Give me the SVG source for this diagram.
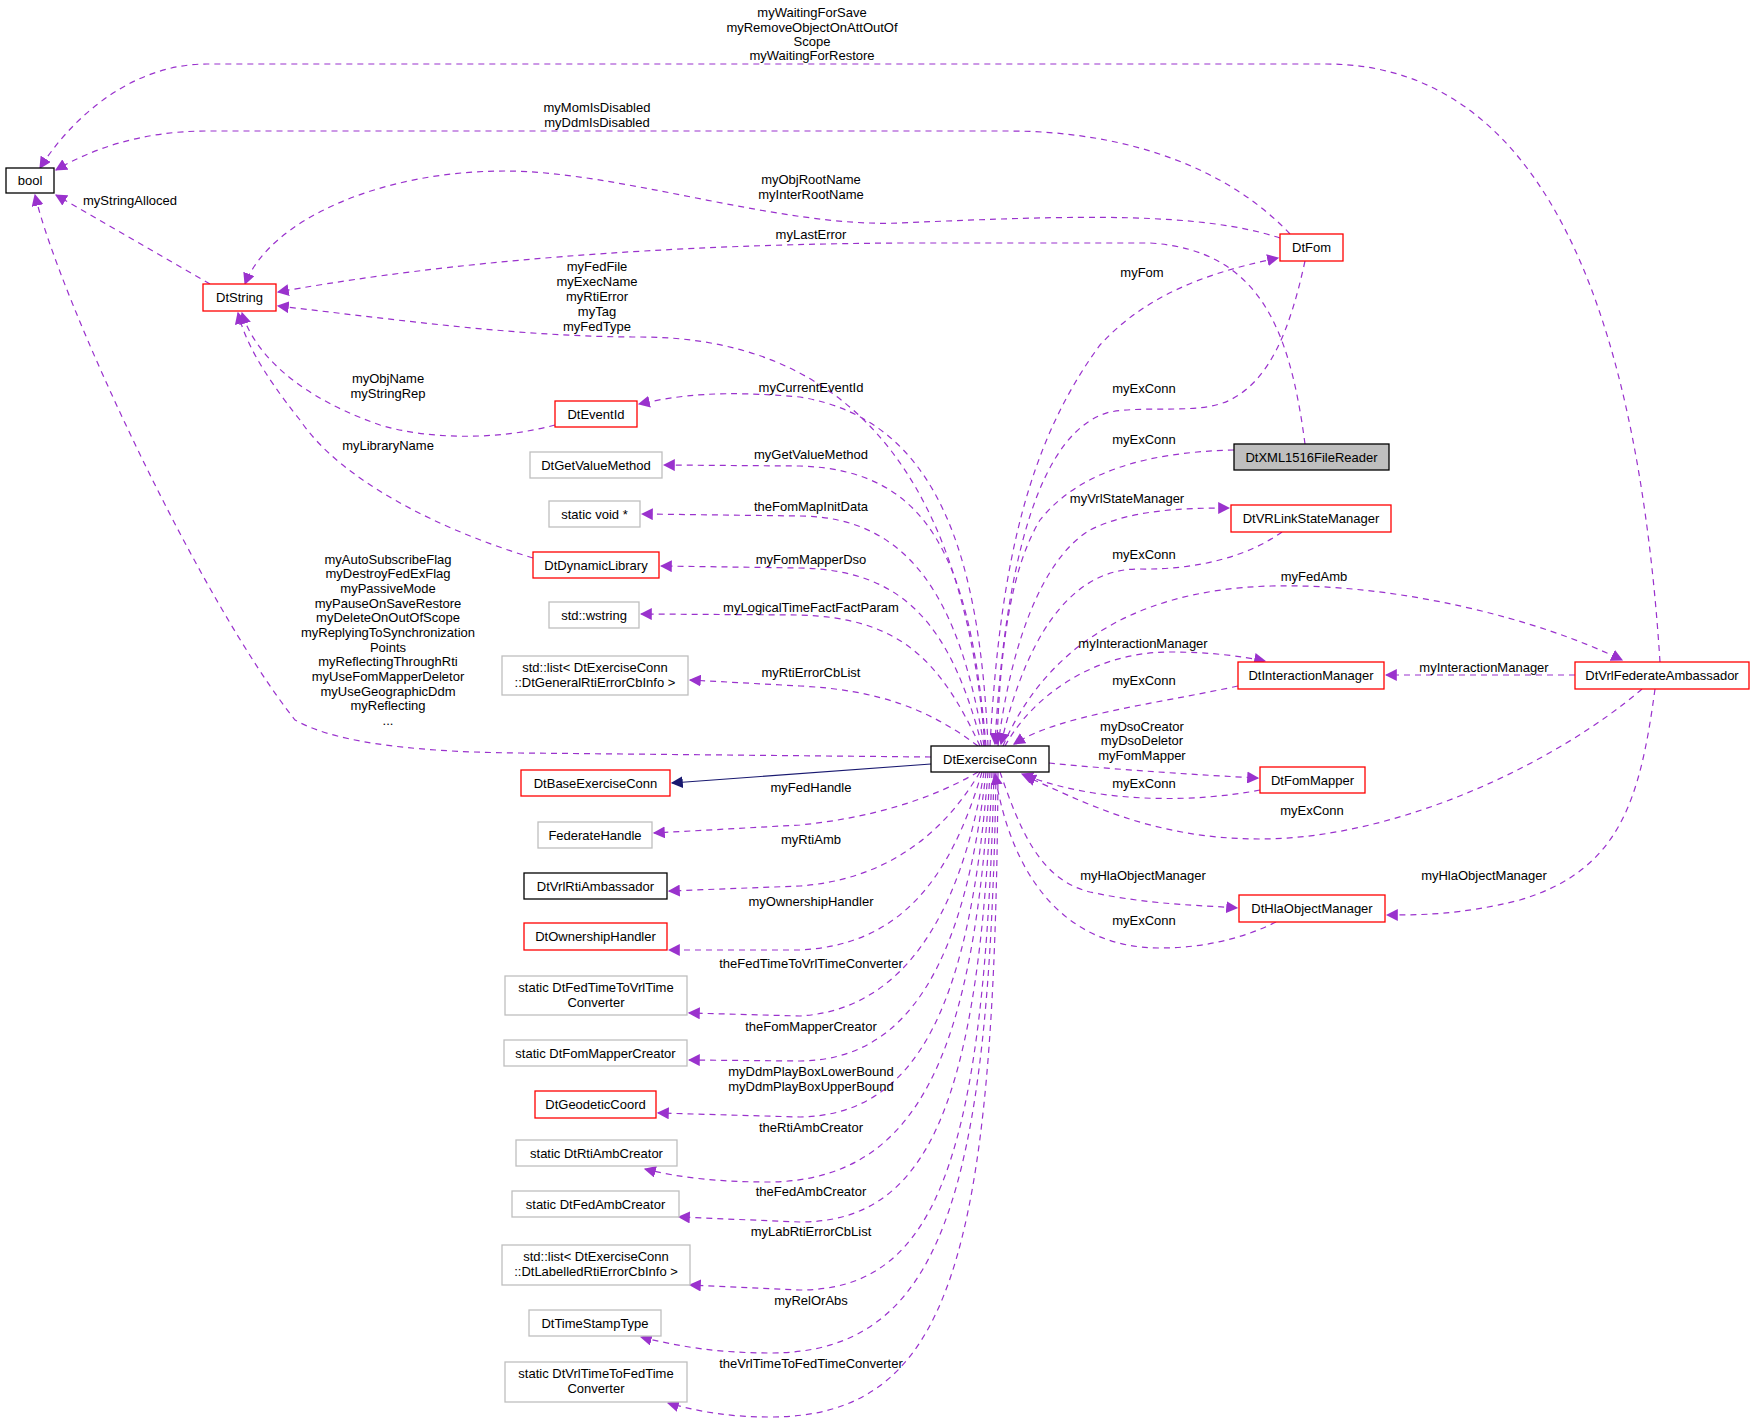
<svg xmlns="http://www.w3.org/2000/svg" width="1755" height="1423" viewBox="0 0 1755 1423">
<style>
text{font-family:"Liberation Sans",Arial,sans-serif;font-size:13px;fill:#000}
.n text,.l{text-anchor:middle}
.g{fill:#fff;stroke:#bfbfbf;stroke-width:1.3}
.r{fill:#fff;stroke:#ff0000;stroke-width:1.3}
.k{fill:#fff;stroke:#000;stroke-width:1.3}
.e path{fill:none;stroke:#9a32cd;stroke-width:1.2;stroke-dasharray:6,5;marker-end:url(#a)}
.e path.s{stroke:#191970;stroke-dasharray:none;marker-end:url(#b)}
</style>
<defs>
<marker id="a" viewBox="0 0 10 10" refX="9" refY="5" markerWidth="12" markerHeight="12" markerUnits="userSpaceOnUse" orient="auto"><path d="M0,0L10,5L0,10z" fill="#9a32cd"/></marker>
<marker id="b" viewBox="0 0 10 10" refX="9" refY="5" markerWidth="12" markerHeight="12" markerUnits="userSpaceOnUse" orient="auto"><path d="M0,0L10,5L0,10z" fill="#191970"/></marker>
</defs>
<rect width="1755" height="1423" fill="#fff"/>
<g class="e">
<path d="M1660,662 C1640,350 1560,64 1326,64 L207,64 C130,64 70,120 40,168"/>
<path d="M1290,234 C1230,170 1130,131 1008,131 L207,131 C140,131 90,150 56,170"/>
<path d="M1280,238 C1200,212 1080,215 900,223 C780,228 620,171 505,171 C380,171 270,220 245,284"/>
<path d="M1305,444 C1290,330 1260,250 1150,243 L900,243 C600,245 400,270 278,292"/>
<path d="M985,746 C960,420 800,337 640,337 C520,337 400,320 278,306"/>
<path d="M210,284 L56,195"/>
<path d="M555,425 C500,440 430,440 380,425 C280,390 250,340 242,313"/>
<path d="M533,558 C440,530 340,480 300,420 C260,370 245,340 238,313"/>
<path d="M931,757 L520,753 C400,752 330,740 295,720 C200,600 60,300 35,195"/>
<path d="M990,746 C1000,560 1030,440 1100,345 C1150,290 1220,270 1278,258"/>
<path d="M1305,261 C1290,330 1270,380 1230,400 C1200,415 1150,405 1110,412 C1040,430 1005,560 995,744"/>
<path d="M1234,450 C1150,452 1080,470 1040,520 C1010,570 1000,650 997,744"/>
<path d="M998,746 C1010,650 1040,560 1090,530 C1130,510 1180,508 1229,508"/>
<path d="M1282,532 C1250,555 1200,570 1140,569 C1080,568 1030,620 1001,744"/>
<path d="M1003,746 C1040,660 1120,590 1271,586 C1400,583 1540,620 1622,660"/>
<path d="M1005,746 C1030,700 1090,652 1170,652 C1210,652 1240,656 1265,661"/>
<path d="M1238,686 C1150,705 1060,715 1014,744"/>
<path d="M1575,675 L1386,675"/>
<path d="M1049,763 C1120,770 1200,775 1258,778"/>
<path d="M1260,790 C1200,802 1100,805 1022,774"/>
<path d="M1642,689 C1560,760 1400,839 1260,839 C1150,839 1080,800 1025,776"/>
<path d="M1000,772 C1020,830 1040,880 1090,892 C1150,905 1200,905 1237,908"/>
<path d="M1276,922 C1240,940 1200,948 1160,948 C1060,948 1010,870 995,774"/>
<path d="M1655,689 C1640,800 1620,870 1520,900 C1460,915 1420,915 1387,915"/>
<path d="M988,746 C980,560 940,420 800,397 C720,390 680,395 639,404"/>
<path d="M986,746 C970,560 930,470 800,466 L664,465"/>
<path d="M984,746 C960,600 910,517 800,516 L642,514"/>
<path d="M982,746 C950,620 900,570 800,568 L661,566"/>
<path d="M980,746 C940,660 900,618 800,615 L641,614"/>
<path d="M978,746 C930,710 880,690 800,686 L690,680"/>
<path class="s" d="M931,764 L672,783"/>
<path d="M978,772 C930,800 870,818 800,825 L654,833"/>
<path d="M980,772 C940,840 880,880 800,886 L669,891"/>
<path d="M982,772 C950,880 900,945 800,950 L669,950"/>
<path d="M984,772 C960,920 900,1010 800,1016 L689,1013"/>
<path d="M986,772 C965,960 910,1060 800,1061 L689,1060"/>
<path d="M988,772 C970,1000 920,1115 800,1117 L658,1113"/>
<path d="M990,772 C975,1050 920,1180 770,1182 C720,1182 680,1178 645,1169"/>
<path d="M992,772 C980,1100 930,1222 800,1222 L679,1217"/>
<path d="M994,772 C985,1150 940,1290 800,1290 L690,1285"/>
<path d="M996,772 C990,1200 940,1353 770,1353 C720,1353 680,1347 641,1337"/>
<path d="M998,772 C995,1260 950,1417 770,1417 C730,1417 700,1412 668,1403"/>
</g>
<g class="l">
<text class="l" x="812" y="17">myWaitingForSave</text>
<text class="l" x="812" y="32">myRemoveObjectOnAttOutOf</text>
<text class="l" x="812" y="46">Scope</text>
<text class="l" x="812" y="60">myWaitingForRestore</text>
<text class="l" x="597" y="112">myMomIsDisabled</text>
<text class="l" x="597" y="127">myDdmIsDisabled</text>
<text class="l" x="811" y="184">myObjRootName</text>
<text class="l" x="811" y="199">myInterRootName</text>
<text class="l" x="811" y="239">myLastError</text>
<text class="l" x="130" y="205">myStringAlloced</text>
<text class="l" x="597" y="271">myFedFile</text>
<text class="l" x="597" y="286">myExecName</text>
<text class="l" x="597" y="301">myRtiError</text>
<text class="l" x="597" y="316">myTag</text>
<text class="l" x="597" y="331">myFedType</text>
<text class="l" x="388" y="383">myObjName</text>
<text class="l" x="388" y="398">myStringRep</text>
<text class="l" x="388" y="450">myLibraryName</text>
<text class="l" x="388" y="564">myAutoSubscribeFlag</text>
<text class="l" x="388" y="578">myDestroyFedExFlag</text>
<text class="l" x="388" y="593">myPassiveMode</text>
<text class="l" x="388" y="608">myPauseOnSaveRestore</text>
<text class="l" x="388" y="622">myDeleteOnOutOfScope</text>
<text class="l" x="388" y="637">myReplyingToSynchronization</text>
<text class="l" x="388" y="652">Points</text>
<text class="l" x="388" y="666">myReflectingThroughRti</text>
<text class="l" x="388" y="681">myUseFomMapperDeletor</text>
<text class="l" x="388" y="696">myUseGeographicDdm</text>
<text class="l" x="388" y="710">myReflecting</text>
<text class="l" x="388" y="725">...</text>
<text class="l" x="811" y="392">myCurrentEventId</text>
<text class="l" x="811" y="459">myGetValueMethod</text>
<text class="l" x="811" y="511">theFomMapInitData</text>
<text class="l" x="811" y="564">myFomMapperDso</text>
<text class="l" x="811" y="612">myLogicalTimeFactFactParam</text>
<text class="l" x="811" y="677">myRtiErrorCbList</text>
<text class="l" x="811" y="792">myFedHandle</text>
<text class="l" x="811" y="844">myRtiAmb</text>
<text class="l" x="811" y="906">myOwnershipHandler</text>
<text class="l" x="811" y="968">theFedTimeToVrlTimeConverter</text>
<text class="l" x="811" y="1031">theFomMapperCreator</text>
<text class="l" x="811" y="1076">myDdmPlayBoxLowerBound</text>
<text class="l" x="811" y="1091">myDdmPlayBoxUpperBound</text>
<text class="l" x="811" y="1132">theRtiAmbCreator</text>
<text class="l" x="811" y="1196">theFedAmbCreator</text>
<text class="l" x="811" y="1236">myLabRtiErrorCbList</text>
<text class="l" x="811" y="1305">myRelOrAbs</text>
<text class="l" x="811" y="1368">theVrlTimeToFedTimeConverter</text>
<text class="l" x="1142" y="277">myFom</text>
<text class="l" x="1144" y="393">myExConn</text>
<text class="l" x="1144" y="444">myExConn</text>
<text class="l" x="1127" y="503">myVrlStateManager</text>
<text class="l" x="1144" y="559">myExConn</text>
<text class="l" x="1314" y="581">myFedAmb</text>
<text class="l" x="1143" y="648">myInteractionManager</text>
<text class="l" x="1144" y="685">myExConn</text>
<text class="l" x="1484" y="672">myInteractionManager</text>
<text class="l" x="1142" y="731">myDsoCreator</text>
<text class="l" x="1142" y="745">myDsoDeletor</text>
<text class="l" x="1142" y="760">myFomMapper</text>
<text class="l" x="1144" y="788">myExConn</text>
<text class="l" x="1312" y="815">myExConn</text>
<text class="l" x="1143" y="880">myHlaObjectManager</text>
<text class="l" x="1484" y="880">myHlaObjectManager</text>
<text class="l" x="1144" y="925">myExConn</text>
</g>
<g id="bool" class="n"><rect class="k" x="6" y="168" width="48" height="25"/><text x="30" y="185">bool</text></g>
<g id="DtString" class="n"><rect class="r" x="203" y="284" width="73" height="27"/><text x="239.5" y="302">DtString</text></g>
<g id="DtFom" class="n"><rect class="r" x="1280" y="234" width="63" height="27"/><text x="1311.5" y="252">DtFom</text></g>
<g id="DtXML1516FileReader" class="n"><rect x="1234" y="444" width="155" height="26" fill="#bfbfbf" stroke="#000" stroke-width="1.3"/><text x="1311.5" y="462">DtXML1516FileReader</text></g>
<g id="DtEventId" class="n"><rect class="r" x="555" y="401" width="82" height="26"/><text x="596" y="419">DtEventId</text></g>
<g id="DtGetValueMethod" class="n"><rect class="g" x="530" y="452" width="132" height="26"/><text x="596" y="470">DtGetValueMethod</text></g>
<g id="staticvoid" class="n"><rect class="g" x="549" y="501" width="91" height="26"/><text x="594.5" y="519">static void *</text></g>
<g id="DtDynamicLibrary" class="n"><rect class="r" x="533" y="552" width="126" height="26"/><text x="596" y="570">DtDynamicLibrary</text></g>
<g id="wstring" class="n"><rect class="g" x="549" y="602" width="90" height="26"/><text x="594" y="620">std::wstring</text></g>
<g id="listGeneral" class="n"><rect class="g" x="502" y="656" width="186" height="39"/><text x="595" y="672">std::list&lt; DtExerciseConn</text><text x="595" y="687">::DtGeneralRtiErrorCbInfo &gt;</text></g>
<g id="DtExerciseConn" class="n"><rect class="k" x="931" y="746" width="118" height="26"/><text x="990" y="764">DtExerciseConn</text></g>
<g id="DtBaseExerciseConn" class="n"><rect class="r" x="521" y="770" width="149" height="26"/><text x="595.5" y="788">DtBaseExerciseConn</text></g>
<g id="FederateHandle" class="n"><rect class="g" x="538" y="822" width="114" height="26"/><text x="595" y="840">FederateHandle</text></g>
<g id="DtVrlRtiAmbassador" class="n"><rect class="k" x="524" y="873" width="143" height="26"/><text x="595.5" y="891">DtVrlRtiAmbassador</text></g>
<g id="DtOwnershipHandler" class="n"><rect class="r" x="524" y="923" width="143" height="27"/><text x="595.5" y="941">DtOwnershipHandler</text></g>
<g id="FedTimeToVrl" class="n"><rect class="g" x="505" y="976" width="182" height="39"/><text x="596" y="992">static DtFedTimeToVrlTime</text><text x="596" y="1007">Converter</text></g>
<g id="FomMapperCreator" class="n"><rect class="g" x="504" y="1040" width="183" height="26"/><text x="595.5" y="1058">static DtFomMapperCreator</text></g>
<g id="DtGeodeticCoord" class="n"><rect class="r" x="535" y="1091" width="121" height="27"/><text x="595.5" y="1109">DtGeodeticCoord</text></g>
<g id="RtiAmbCreator" class="n"><rect class="g" x="516" y="1140" width="161" height="26"/><text x="596.5" y="1158">static DtRtiAmbCreator</text></g>
<g id="FedAmbCreator" class="n"><rect class="g" x="512" y="1191" width="167" height="26"/><text x="595.5" y="1209">static DtFedAmbCreator</text></g>
<g id="listLabelled" class="n"><rect class="g" x="502" y="1245" width="188" height="40"/><text x="596" y="1261">std::list&lt; DtExerciseConn</text><text x="596" y="1276">::DtLabelledRtiErrorCbInfo &gt;</text></g>
<g id="DtTimeStampType" class="n"><rect class="g" x="529" y="1310" width="132" height="26"/><text x="595" y="1328">DtTimeStampType</text></g>
<g id="VrlTimeToFed" class="n"><rect class="g" x="505" y="1362" width="182" height="40"/><text x="596" y="1378">static DtVrlTimeToFedTime</text><text x="596" y="1393">Converter</text></g>
<g id="DtVRLinkStateManager" class="n"><rect class="r" x="1231" y="505" width="160" height="27"/><text x="1311" y="523">DtVRLinkStateManager</text></g>
<g id="DtInteractionManager" class="n"><rect class="r" x="1238" y="662" width="146" height="27"/><text x="1311" y="680">DtInteractionManager</text></g>
<g id="DtVrlFederateAmbassador" class="n"><rect class="r" x="1575" y="662" width="174" height="27"/><text x="1662" y="680">DtVrlFederateAmbassador</text></g>
<g id="DtFomMapper" class="n"><rect class="r" x="1260" y="767" width="105" height="26"/><text x="1312.5" y="785">DtFomMapper</text></g>
<g id="DtHlaObjectManager" class="n"><rect class="r" x="1239" y="895" width="146" height="27"/><text x="1312" y="913">DtHlaObjectManager</text></g>
</svg>
